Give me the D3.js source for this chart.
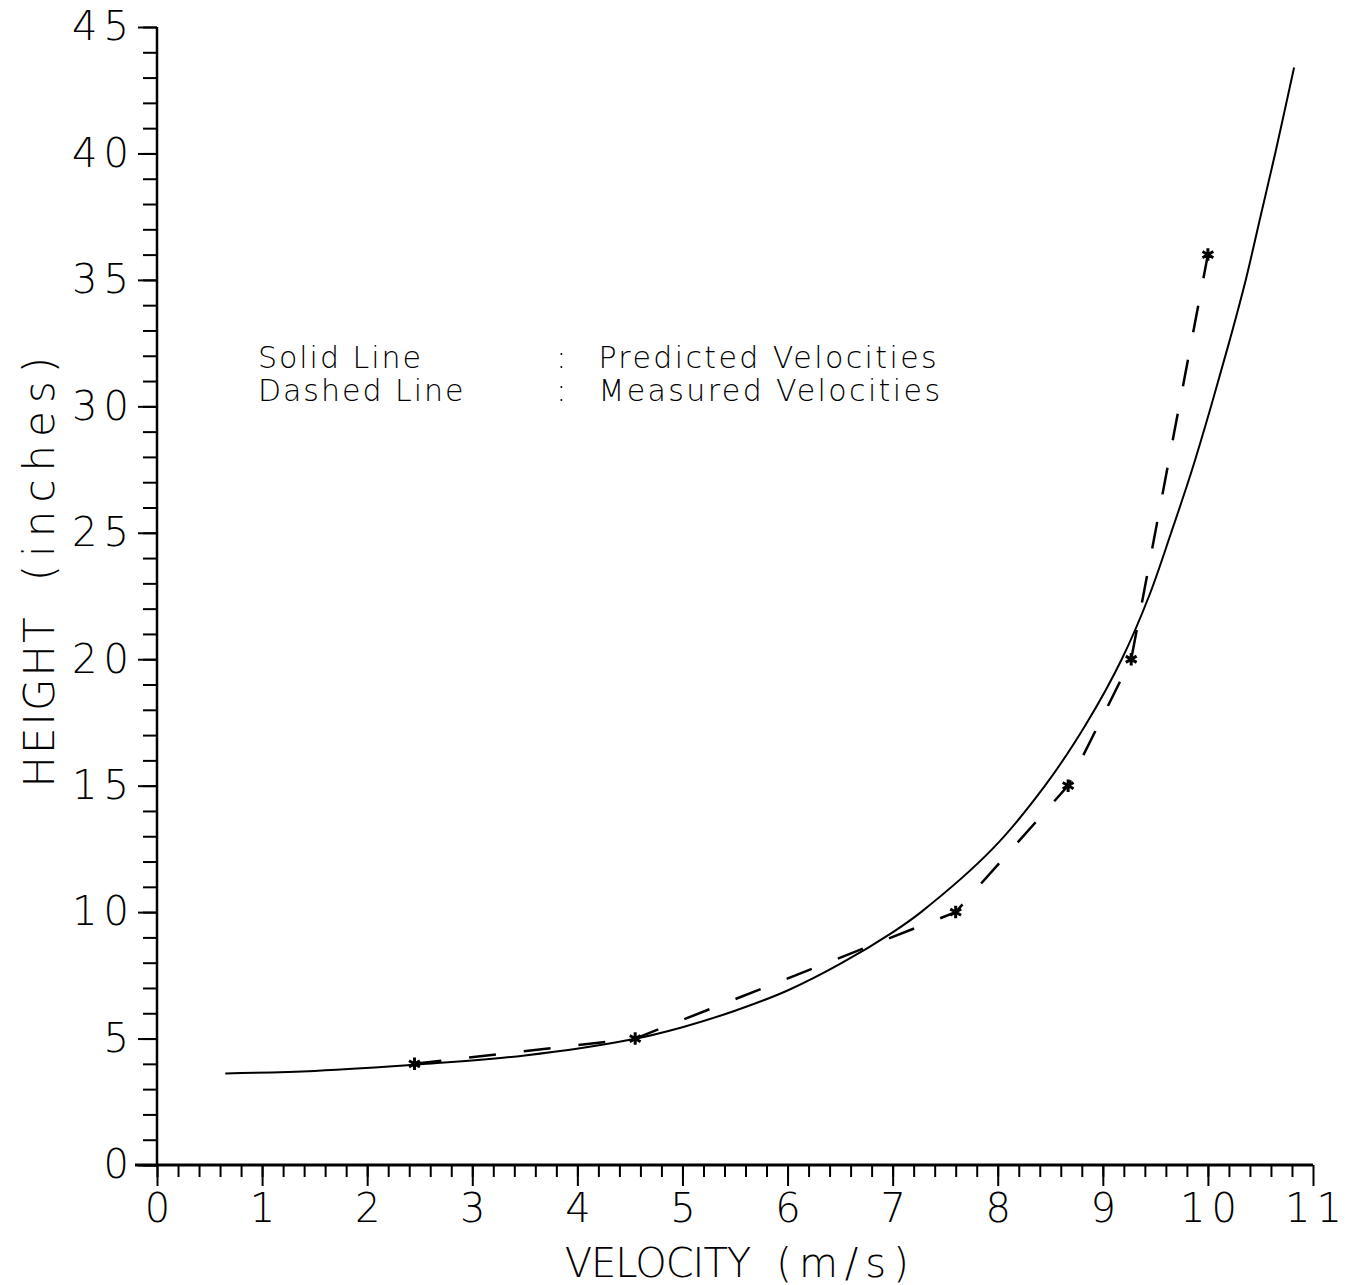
<!DOCTYPE html>
<html>
<head>
<meta charset="utf-8">
<script src="https://cdn.jsdelivr.net/npm/d3@7"></script>
<style>
  body { margin: 0; background: #fff; }
  text { font-family: "DejaVu Sans", sans-serif; font-weight: 200; fill: #000; }
</style>
</head>
<body>
<div id="chart"></div>
<script>
// predicted velocities (solid line)
var predictedVelocity = [0.65, 1.5, 2.5, 3.5, 4.5, 5.0, 5.5, 6.0, 6.5, 7.0, 7.27, 7.95, 8.45, 8.85, 9.18, 9.44, 9.65, 9.85, 10.03, 10.2, 10.36, 10.5, 10.64, 10.82]
var predictedHeight   = [3.62, 3.72, 3.98, 4.33, 4.95, 5.45, 6.1, 6.9, 7.95, 9.2, 10.0, 12.5, 15.0, 17.5, 20.0, 22.5, 25.0, 27.5, 30.0, 32.5, 35.0, 37.5, 40.0, 43.4]

// measured velocities (dashed line with stars)
var measuredVelocity = [2.45, 4.55, 7.6, 8.67, 9.27, 10.0]
var measuredHeight   = [4, 5, 10, 15, 20, 36]

var xTicks = d3.range(0, 12)
var yTicks = d3.range(0, 50, 5)
var legendNames = ['Solid Line', 'Dashed Line']
var legendLabels = ['Predicted Velocities', 'Measured Velocities']

var width = 1351
var height = 1285
var margin = {top: 27, right: 38, bottom: 120, left: 157}

var svg = d3.select('#chart').append('svg')
  .attr('width', width)
  .attr('height', height)

var x = d3.scaleLinear()
  .domain([0, 11])
  .range([margin.left, width - margin.right])

var y = d3.scaleLinear()
  .domain([0, 45])
  .range([height - margin.bottom, margin.top])

// x axis: major and minor ticks
var xMinor = svg.append('g')
  .attr('transform', 'translate(0,' + y(0) + ')')
  .call(d3.axisBottom(x)
    .tickValues(d3.range(0, 55).map(function (d) { return d / 5 }))
    .tickSize(12)
    .tickFormat(''))
xMinor.select('.domain').remove()

var xAxis = svg.append('g')
  .attr('transform', 'translate(0,' + y(0) + ')')
  .call(d3.axisBottom(x)
    .tickValues(xTicks)
    .tickSize(21)
    .tickPadding(8)
    .tickFormat(d3.format('d')))
xAxis.select('.domain').remove()
xAxis.selectAll('text').attr('font-size', 40).attr('letter-spacing', 6).attr('dx', 3)

// long baseline that runs left past the y axis
svg.append('line')
  .attr('x1', x(0) - 22)
  .attr('x2', x(11))
  .attr('y1', y(0))
  .attr('y2', y(0))
  .attr('stroke', '#000')
  .attr('stroke-width', 3)

// y axis
var yMinor = svg.append('g')
  .attr('transform', 'translate(' + x(0) + ',0)')
  .call(d3.axisLeft(y)
    .tickValues(d3.range(0, 46))
    .tickSize(14)
    .tickFormat(''))
yMinor.select('.domain').remove()

var yAxis = svg.append('g')
  .attr('transform', 'translate(' + x(0) + ',0)')
  .call(d3.axisLeft(y)
    .tickValues(yTicks)
    .tickSize(19)
    .tickPadding(12)
    .tickFormat(d3.format('d')))
yAxis.select('.domain').remove()
yAxis.selectAll('text').attr('font-size', 40).attr('letter-spacing', 6).attr('dx', 9)

svg.append('line')
  .attr('x1', x(0))
  .attr('x2', x(0))
  .attr('y1', y(45))
  .attr('y2', y(0))
  .attr('stroke', '#000')
  .attr('stroke-width', 2.5)

svg.selectAll('.tick line').attr('stroke', '#000').attr('stroke-width', 2)
svg.selectAll('.tick text').attr('fill', '#000').attr('font-family', '"DejaVu Sans", sans-serif')

// axis titles
var xTitle = svg.append('text')
  .attr('x', x(5.55))
  .attr('y', y(0) + 112)
  .attr('text-anchor', 'middle')
  .attr('font-size', 40)
xTitle.append('tspan').attr('letter-spacing', -1).text('VELOCITY')
xTitle.append('tspan').attr('letter-spacing', 7).attr('dx', 26).text('(m/s)')

var yTitle = svg.append('text')
  .attr('transform', 'translate(54,' + y(23.6) + ') rotate(-90)')
  .attr('text-anchor', 'middle')
  .attr('font-size', 42)
yTitle.append('tspan').attr('letter-spacing', 2).text('HEIGHT')
yTitle.append('tspan').attr('letter-spacing', 8).attr('dx', 34).text('(inches)')

// curves
var predicted = predictedVelocity.map(function (v, i) { return [v, predictedHeight[i]] })
var measured = measuredVelocity.map(function (v, i) { return [v, measuredHeight[i]] })

var smooth = d3.line()
  .x(function (d) { return x(d[0]) })
  .y(function (d) { return y(d[1]) })
  .curve(d3.curveCatmullRom.alpha(0.5))

var straight = d3.line()
  .x(function (d) { return x(d[0]) })
  .y(function (d) { return y(d[1]) })

svg.append('path')
  .datum(predicted)
  .attr('d', smooth)
  .attr('fill', 'none')
  .attr('stroke', '#000')
  .attr('stroke-width', 2)

svg.append('path')
  .datum(measured)
  .attr('d', straight)
  .attr('fill', 'none')
  .attr('stroke', '#000')
  .attr('stroke-width', 2.5)
  .attr('stroke-dasharray', '27,28')

svg.selectAll('path.star')
  .data(measured)
  .enter().append('path')
  .attr('class', 'star')
  .attr('transform', function (d) { return 'translate(' + x(d[0]) + ',' + y(d[1]) + ')' })
  .attr('d', d3.symbol().type(d3.symbolAsterisk).size(110))
  .attr('fill', 'none')
  .attr('stroke', '#000')
  .attr('stroke-width', 3)

// legend text
var legend = svg.append('g')
legend.selectAll('text.name')
  .data(legendNames)
  .enter().append('text')
  .attr('class', 'name')
  .attr('x', x(0.96))
  .attr('y', function (d, i) { return y(31.5) + i * 33 })
  .attr('font-size', 30)
  .attr('letter-spacing', 2)
  .text(function (d) { return d.replace(' ', '  ') })

legend.selectAll('text.colon')
  .data(legendNames)
  .enter().append('text')
  .attr('class', 'colon')
  .attr('x', x(3.8))
  .attr('y', function (d, i) { return y(31.5) + i * 33 })
  .attr('font-size', 30)
  .text(':')

legend.selectAll('text.label')
  .data(legendLabels)
  .enter().append('text')
  .attr('class', 'label')
  .attr('x', x(4.2))
  .attr('y', function (d, i) { return y(31.5) + i * 33 })
  .attr('font-size', 30)
  .attr('letter-spacing', 2.4)
  .text(function (d) { return d.replace(' ', '  ') })
</script>
</body>
</html>
